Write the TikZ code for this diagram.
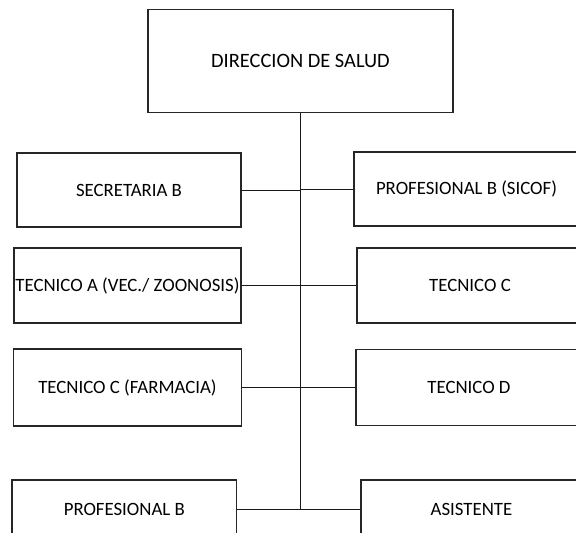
\documentclass[tikz,border=0pt]{standalone}
\usepackage{fontspec}
\setmainfont{Carlito}
\begin{document}
\begin{tikzpicture}[x=1pt,y=-1pt,
  box/.style={draw=black!85,line width=1.1pt,fill=white,inner sep=0pt,align=center,font=\fontsize{18.8}{22}\selectfont},
  conn/.style={draw=black!90,line width=0.9pt}]
\useasboundingbox (0,0) rectangle (576,533);
\clip (0,0) rectangle (576,533);
\fill[white] (0,0) rectangle (576,533);
\node[box,minimum width=305pt,minimum height=103.5pt,font=\fontsize{20.4}{24}\selectfont] (dir) at (300.5,61) {DIRECCION DE SALUD};
\node[box,minimum width=224pt,minimum height=74pt] (sec) at (129,190) {SECRETARIA B};
\node[box,minimum width=225pt,minimum height=74pt] (sicof) at (466.5,189) {PROFESIONAL B (SICOF)};
\node[box,minimum width=227pt,minimum height=75pt] (teca) at (127.5,285.5) {TECNICO A (VEC./ ZOONOSIS)};
\node[box,minimum width=226pt,minimum height=75pt] (tecc) at (470,285.5) {TECNICO C};
\node[box,minimum width=228pt,minimum height=77pt] (farm) at (127.5,387.5) {TECNICO C (FARMACIA)};
\node[box,minimum width=226pt,minimum height=76pt] (tecd) at (469,387.5) {TECNICO D};
\node[box,minimum width=224.7pt,minimum height=58pt] (profb) at (124.3,509) {PROFESIONAL B};
\node[box,minimum width=221pt,minimum height=58pt] (asis) at (471.5,509) {ASISTENTE};
\coordinate (bot) at (dir.south |- profb.east);
\draw[conn] (dir.south) -- (bot);
\draw[conn] (sec.east) -- (sec.east -| dir.south);
\draw[conn] (sicof.west) -- (sicof.west -| dir.south);
\draw[conn] (teca.east) -- (teca.east -| dir.south);
\draw[conn] (tecc.west) -- (tecc.west -| dir.south);
\draw[conn] (farm.east) -- (farm.east -| dir.south);
\draw[conn] (tecd.west) -- (tecd.west -| dir.south);
\draw[conn] (profb.east) -- (bot);
\draw[conn] (asis.west) -- (bot);
\end{tikzpicture}
\end{document}
